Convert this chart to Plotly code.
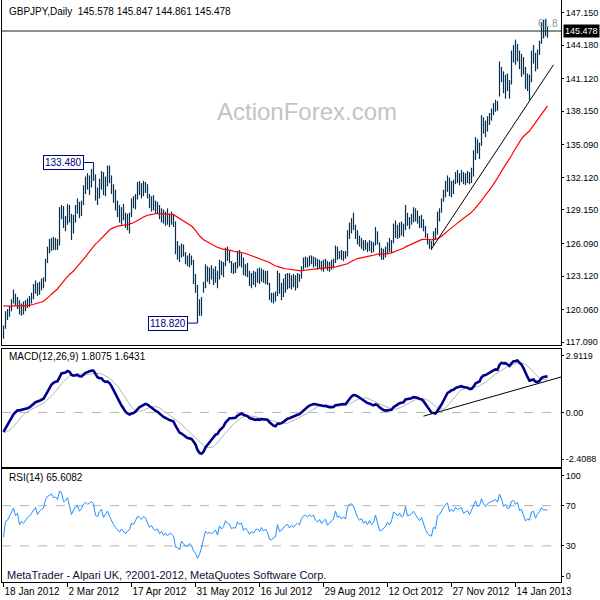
import plotly.graph_objects as go

# ---------------- data ----------------
lows = [
    117.4, 118.3, 119.1, 119.4, 119.9, 120.6, 120.4, 120.1, 119.6, 119.5,
    119.6, 119.9, 120.2, 120.3, 120.6, 121.0, 121.5, 121.3, 121.4, 121.8,
    122.0, 122.6, 124.3, 125.2, 125.4, 125.5, 125.5, 125.5, 125.9, 128.3,
    127.5, 127.2, 127.8, 128.0, 126.4, 127.0, 128.0, 128.8, 128.4, 128.6,
    129.6, 130.6, 131.0, 130.5, 131.2, 131.8, 130.0, 129.6, 130.2, 131.0,
    130.5, 130.4, 131.3, 131.6, 130.6, 129.8, 129.1, 128.5, 128.0, 127.8,
    128.2, 127.5, 127.3, 127.0, 128.5, 129.3, 129.2, 130.1, 130.5, 130.2,
    130.4, 130.7, 130.2, 129.3, 129.0, 129.1, 128.8, 128.8, 128.3, 128.0,
    127.9, 127.7, 127.8, 127.6, 127.8, 127.6, 125.1, 124.6, 124.4, 124.8,
    124.9, 124.2, 124.0, 123.9, 124.1, 122.4, 121.6, 118.82, 119.5, 119.5,
    121.6, 122.0, 122.6, 122.4, 122.8, 122.3, 122.5, 122.0, 122.8, 123.2,
    123.0, 124.0, 124.5, 124.3, 123.4, 123.3, 123.4, 123.8, 124.0, 123.9,
    123.2, 123.1, 123.0, 122.2, 122.0, 122.3, 122.1, 122.5, 122.4, 122.6,
    122.5, 122.4, 122.3, 120.9, 120.7, 120.6, 120.8, 121.3, 121.5, 120.9,
    121.2, 121.6, 121.9, 122.0, 121.9, 122.1, 121.8, 122.0, 122.6, 122.9,
    123.7, 123.9, 123.9, 124.0, 124.2, 123.9, 124.0, 123.7, 123.8, 123.6,
    123.5, 123.8, 123.6, 123.5, 123.7, 123.8, 124.3, 124.6, 124.7, 124.6,
    124.5, 124.7, 124.9, 126.5, 127.0, 127.3, 126.5, 126.0, 125.8, 125.6,
    125.4, 125.5, 125.3, 125.4, 125.2, 125.3, 125.9, 126.0, 124.9, 124.6,
    124.6, 124.8, 125.1, 125.3, 125.2, 126.1, 126.6, 126.5, 126.6, 126.8,
    126.7, 127.3, 127.7, 127.4, 127.8, 128.0, 128.1, 127.9, 127.5, 127.5,
    127.2, 126.6, 126.0, 125.6, 125.5, 125.9, 126.4, 126.9, 128.1, 128.9,
    129.9, 130.3, 130.8, 130.4, 130.3, 130.6, 131.5, 131.6, 131.4, 131.7,
    131.5, 131.4, 131.6, 131.5, 131.6, 132.2, 133.7, 134.3, 133.8, 135.0,
    136.1, 135.8, 136.3, 136.9, 137.3, 137.8, 138.1, 138.2, 139.5, 140.8,
    139.8, 139.3, 140.0, 139.3, 140.6, 142.6, 142.4, 142.7, 142.0, 141.3,
    141.5, 140.2, 140.0, 139.2, 140.8, 142.5, 141.8, 142.0, 143.3, 144.3,
    144.8, 145.0, 144.861,
]
highs = [
    118.6, 119.9, 120.1, 120.4, 121.0, 121.9, 121.5, 121.2, 120.9, 120.6,
    120.8, 120.9, 121.1, 121.3, 121.6, 122.4, 122.7, 122.5, 122.6, 122.9,
    123.0, 124.7, 125.8, 126.5, 126.6, 126.7, 126.6, 126.5, 129.4, 129.6,
    129.5, 128.6, 129.7, 129.6, 128.8, 128.7, 129.6, 130.2, 129.9, 130.0,
    131.4, 132.2, 132.5, 132.3, 132.9, 133.48, 132.4, 131.2, 132.0, 132.7,
    132.6, 132.2, 133.2, 133.2, 132.3, 131.5, 131.0, 130.0, 129.6, 129.4,
    129.7, 128.9, 128.8, 128.9, 130.2, 130.4, 130.6, 131.7, 131.8, 131.6,
    131.8, 131.7, 131.5, 130.6, 130.4, 130.5, 130.0, 129.9, 129.6, 129.3,
    129.2, 129.0, 129.3, 128.8, 129.0, 128.8, 128.1, 126.3, 125.9, 126.1,
    126.0, 125.3, 125.0, 125.2, 125.0, 124.6, 123.3, 122.3, 121.0, 121.2,
    122.6, 124.2, 124.0, 123.9, 124.1, 123.8, 124.0, 123.6, 124.6, 124.5,
    124.4, 125.7, 125.8, 125.4, 124.5, 124.3, 124.4, 125.4, 125.5, 125.2,
    124.8, 124.2, 124.3, 123.6, 123.4, 123.6, 123.5, 123.8, 123.9, 123.8,
    123.7, 123.6, 123.6, 122.5, 121.6, 121.6, 121.7, 123.6, 123.4, 122.5,
    122.9, 123.3, 123.4, 123.4, 123.2, 123.3, 123.2, 123.4, 123.3, 124.0,
    124.8, 124.9, 124.8, 125.0, 125.0, 124.9, 124.8, 124.7, 124.6, 124.5,
    124.6, 124.7, 124.5, 124.4, 124.6, 124.7, 125.9, 125.8, 125.4, 125.5,
    125.4, 125.4, 127.3, 128.0, 128.4, 128.9, 127.8, 127.3, 126.8, 126.6,
    126.4, 126.4, 126.2, 126.4, 126.3, 126.2, 127.6, 127.2, 126.2, 125.7,
    125.6, 125.8, 126.2, 126.6, 126.4, 127.9, 128.2, 127.8, 128.0, 128.1,
    127.9, 129.6, 128.9, 128.5, 128.8, 129.4, 129.3, 129.1, 128.6, 128.7,
    128.3, 127.7, 127.0, 126.5, 126.3, 127.2, 127.5, 129.0, 129.3, 130.2,
    131.0, 131.8, 132.3, 132.1, 131.8, 131.9, 132.6, 132.8, 132.5, 132.8,
    132.6, 132.5, 132.7, 132.6, 133.0, 134.6, 135.8, 135.6, 135.3, 137.8,
    137.6, 137.3, 137.7, 138.0, 138.4, 138.9, 139.2, 139.1, 142.7, 142.2,
    141.8, 141.5, 141.6, 141.0, 143.7, 144.2, 144.7, 144.3, 143.7, 143.4,
    143.1, 142.2, 141.6, 141.5, 143.7, 144.2, 143.5, 143.8, 144.6, 146.3,
    146.5, 146.6, 145.847,
]
closes = [
    118.4, 119.7, 119.8, 120.2, 120.7, 121.3, 120.7, 121.0, 119.9, 120.3,
    120.1, 120.5, 120.8, 121.0, 121.4, 122.0, 122.3, 121.7, 122.2, 122.5,
    122.7, 124.5, 125.5, 125.9, 126.3, 126.0, 126.2, 126.0, 129.1, 129.0,
    128.0, 128.3, 129.4, 128.4, 127.2, 128.4, 129.4, 129.7, 128.9, 129.7,
    131.2, 131.9, 131.6, 132.0, 132.6, 132.3, 130.6, 130.4, 131.7, 132.4,
    131.0, 131.9, 132.8, 131.9, 131.0, 130.2, 129.6, 129.0, 128.5, 129.1,
    128.6, 128.0, 128.5, 128.7, 129.9, 129.7, 130.4, 131.4, 131.2, 130.9,
    131.5, 131.3, 130.5, 129.8, 130.1, 129.5, 129.3, 129.5, 128.7, 129.0,
    128.3, 128.6, 128.1, 128.4, 128.3, 128.0, 125.6, 125.5, 124.8, 125.8,
    125.2, 124.6, 124.5, 124.8, 124.4, 122.8, 122.0, 119.7, 120.2, 121.0,
    122.4, 123.8, 123.2, 123.5, 123.0, 123.4, 123.7, 122.6, 124.3, 123.6,
    124.1, 125.4, 124.9, 124.7, 123.8, 124.0, 123.9, 125.1, 124.6, 124.9,
    123.5, 123.9, 123.4, 122.6, 123.1, 122.7, 123.2, 123.4, 122.9, 123.5,
    122.9, 123.2, 122.6, 121.2, 121.0, 121.3, 121.4, 123.2, 121.9, 122.1,
    122.6, 122.9, 123.1, 122.5, 122.9, 122.6, 123.0, 123.2, 123.0, 123.9,
    124.4, 124.5, 124.3, 124.7, 124.5, 124.7, 124.2, 124.0, 124.3, 123.9,
    124.2, 124.4, 123.8, 124.1, 124.3, 124.5, 125.6, 125.0, 125.2, 124.9,
    125.2, 125.0, 126.8, 127.5, 127.6, 127.4, 126.8, 126.3, 126.0, 126.2,
    125.7, 126.0, 125.6, 126.1, 125.7, 125.9, 126.9, 126.1, 125.0, 125.0,
    125.3, 125.5, 126.0, 125.7, 126.2, 127.6, 127.5, 127.2, 127.7, 127.3,
    127.5, 129.2, 128.1, 128.2, 128.5, 129.0, 128.6, 128.3, 127.9, 128.4,
    127.5, 126.8, 126.2, 125.8, 125.7, 126.8, 126.6, 128.7, 129.0, 130.0,
    130.7, 131.5, 132.0, 130.9, 131.5, 131.2, 132.3, 132.0, 132.2, 132.5,
    131.8, 132.2, 132.4, 131.9, 132.8, 134.3, 135.5, 134.8, 135.0, 137.5,
    136.8, 136.4, 137.4, 137.8, 138.2, 138.5, 138.9, 138.6, 142.2, 141.5,
    140.3, 141.2, 140.5, 140.7, 143.4, 143.8, 143.2, 143.9, 142.5, 142.9,
    141.8, 140.6, 141.2, 140.9, 143.4, 143.6, 142.2, 143.5, 144.3, 146.0,
    145.5, 145.6, 145.478,
]

tick_idx = [0, 32, 64, 96, 128, 160, 192, 224, 256]
tick_text = ["18 Jan 2012", "2 Mar 2012", "17 Apr 2012", "31 May 2012", "16 Jul 2012",
             "29 Aug 2012", "12 Oct 2012", "27 Nov 2012", "14 Jan 2013"]
price_ticks = [147.15, 144.18, 141.12, 138.15, 135.09, 132.12, 129.15, 126.09, 123.12, 120.06, 117.09]
macd_ticks = [2.9119, 0.0, -2.4088]
macd_tick_text = ["2.9119", "0.00", "-2.4088"]
rsi_ticks = [100, 70, 30, 0]

# indicator states at the first visible bar
ma_start = 120.4
ema_fast_start = 118.2
ema_slow_start = 119.2
signal_start = -1.05
rsi_gain_start = 0.11
rsi_loss_start = 0.175

price_trend_x = [214, 275]
price_trend_y = [125.6, 142.4]
macd_trend_x = [210, 279]
macd_trend_y = [-0.19, 1.83]

marked_labels = [(45, 133.48, "133.480"), (97, 118.82, "118.820")]

# ---------------- indicators ----------------
def ema(vals, n, start):
    k = 2.0 / (n + 1)
    out = [start]
    for v in vals[1:]:
        out.append(out[-1] + k * (v - out[-1]))
    return out

n = len(closes)
xs = list(range(n))
ma = ema(closes, 55, ma_start)
e12 = ema(closes, 12, ema_fast_start)
e26 = ema(closes, 26, ema_slow_start)
macd = [a - b for a, b in zip(e12, e26)]
padded = [signal_start] * 8 + macd
signal = [sum(padded[i:i + 9]) / 9 for i in range(n)]

g, l = rsi_gain_start, rsi_loss_start
rsi = [100 - 100 / (1 + g / l)]
for i in range(1, n):
    d = closes[i] - closes[i - 1]
    g = (g * 13 + max(d, 0)) / 14
    l = (l * 13 + max(-d, 0)) / 14
    rsi.append(100 - 100 / (1 + g / l))

bx, by = [], []
for i in range(n):
    bx += [i, i, None]
    by += [lows[i], highs[i], None]

# ---------------- figure ----------------
FONT = "Liberation Sans"
fig = go.Figure()
fig.add_trace(go.Scatter(x=bx, y=by, mode="lines", line=dict(color="#08304f", width=1.2),
                         xaxis="x", yaxis="y", hoverinfo="skip"))
fig.add_trace(go.Scatter(x=xs, y=ma, mode="lines", line=dict(color="#ff0000", width=1.2),
                         xaxis="x", yaxis="y"))
fig.add_trace(go.Scatter(x=price_trend_x, y=price_trend_y, mode="lines",
                         line=dict(color="#000000", width=1), xaxis="x", yaxis="y"))
fig.add_trace(go.Scatter(x=xs, y=signal, mode="lines", line=dict(color="#b4b4b4", width=1),
                         xaxis="x2", yaxis="y2"))
fig.add_trace(go.Scatter(x=xs, y=macd, mode="lines", line=dict(color="#00008b", width=2.6),
                         xaxis="x2", yaxis="y2"))
fig.add_trace(go.Scatter(x=macd_trend_x, y=macd_trend_y, mode="lines",
                         line=dict(color="#000000", width=1), xaxis="x2", yaxis="y2"))
fig.add_trace(go.Scatter(x=xs, y=rsi, mode="lines", line=dict(color="#1e90ff", width=1),
                         xaxis="x3", yaxis="y3"))

xr = [-0.75, 278.75]
common_x = dict(range=xr, showgrid=False, zeroline=False, showline=True, linecolor="#000",
                linewidth=1, fixedrange=True, automargin=False)
common_y = dict(side="right", showgrid=False, zeroline=False, showline=True, mirror=True,
                linecolor="#000", linewidth=1, ticks="outside", ticklen=2, tickcolor="#000",
                tickfont=dict(family=FONT, size=9, color="#000"), fixedrange=True,
                automargin=False)

fig.update_layout(
    width=600, height=600, margin=dict(l=2, r=39, t=0, b=18, autoexpand=False),
    paper_bgcolor="white", plot_bgcolor="white", showlegend=False,
    font=dict(family=FONT, size=10, color="#000"),
    xaxis=dict(anchor="y", domain=[0, 1], showticklabels=False, mirror=False, **common_x),
    xaxis2=dict(anchor="y2", domain=[0, 1], matches="x", showticklabels=False, mirror=True, **common_x),
    xaxis3=dict(anchor="y3", domain=[0, 1], matches="x", mirror=True, tickvals=tick_idx,
                ticktext=tick_text, ticks="outside", ticklen=4, tickcolor="#000",
                ticklabelposition="outside right", tickangle=0,
                tickfont=dict(family=FONT, size=10, color="#000"), **common_x),
    yaxis=dict(domain=[0.4064, 1.0], range=[116.78, 148.31], anchor="x",
               tickvals=price_ticks, ticktext=["%.3f" % v for v in price_ticks], **common_y),
    yaxis2=dict(domain=[0.19845, 0.4012], range=[-2.78, 3.29], anchor="x2",
                tickvals=macd_ticks, ticktext=macd_tick_text, **common_y),
    yaxis3=dict(domain=[0.0, 0.19416], range=[-5.9, 106.4], anchor="x3",
                tickvals=rsi_ticks, ticktext=[str(v) for v in rsi_ticks], **common_y),
)

shapes = []
# last price line
shapes.append(dict(type="line", xref="x domain", x0=0, x1=1, yref="y", y0=closes[-1], y1=closes[-1],
                   line=dict(color="#5f6b6b", width=1.5), layer="below"))
# dashed levels
shapes.append(dict(type="line", xref="x2 domain", x0=0, x1=1, yref="y2", y0=0, y1=0,
                   line=dict(color="#b4b4b4", width=1, dash="dash"), layer="below"))
for lv in (70, 30):
    shapes.append(dict(type="line", xref="x3 domain", x0=0, x1=1, yref="y3", y0=lv, y1=lv,
                       line=dict(color="#b4b4b4", width=1, dash="dash"), layer="below"))
# connectors for marked labels
for idx, val, txt_ in marked_labels:
    shapes.append(dict(type="line", xref="x", yref="y", x0=idx - 5, x1=idx, y0=val, y1=val,
                       line=dict(color="#000080", width=1)))
fig.update_layout(shapes=shapes)

ann = []
def txt(x, y, s, size=10, color="#000", xanchor="left", **kw):
    ann.append(dict(xref="paper", yref="paper", x=x, y=y, text=s, showarrow=False,
                    xanchor=xanchor, yanchor="middle",
                    font=dict(family=FONT, size=size, color=color), **kw))

txt(0.009, 0.9794, "GBPJPY,Daily  145.578 145.847 144.861 145.478")
txt(0.5456, 0.8076, "ActionForex.com", size=24, color="#c4c4c4", xanchor="center")
txt(0.009, 0.3866, "MACD(12,26,9) 1.8075 1.6431")
txt(0.009, 0.1787, "RSI(14) 65.6082")
txt(0.005, 0.012, "MetaTrader - Alpari UK, ?2001-2012, MetaQuotes Software Corp.", size=11,
    color="#10103a")

for idx, val, label in marked_labels:
    ann.append(dict(xref="x", yref="y", x=idx - 5, y=val, text=label, showarrow=False,
                    xanchor="right", yanchor="middle", bgcolor="white", bordercolor="#000080",
                    borderwidth=1, borderpad=1,
                    font=dict(family=FONT, size=10, color="#000080")))

ann.append(dict(xref="paper", yref="y", x=1.0, xshift=2, y=closes[-1], text="%.3f" % closes[-1],
                showarrow=False, xanchor="left", yanchor="middle", bgcolor="#000",
                font=dict(family=FONT, size=9, color="#fff"), borderpad=1))
ann.append(dict(xref="x domain", yref="y", x=0.998, y=closes[-1], text="61.8", showarrow=False,
                xanchor="right", yanchor="bottom", font=dict(family=FONT, size=10, color="#8595a5")))
fig.update_layout(annotations=ann)

fig.write_html("out.html")
